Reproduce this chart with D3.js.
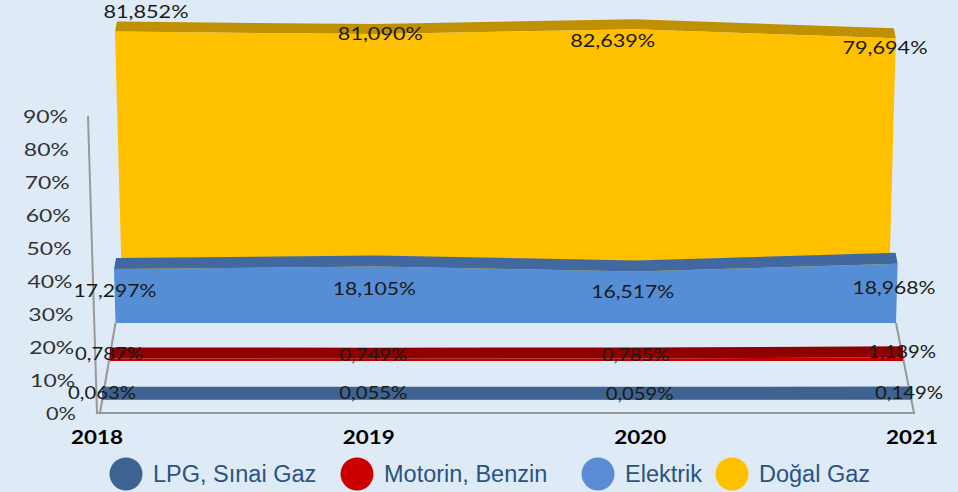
<!DOCTYPE html>
<html>
<head>
<meta charset="utf-8">
<script src="https://cdnjs.cloudflare.com/ajax/libs/d3/7.8.5/d3.min.js"></script>
<style>
	html, body { margin: 0; padding: 0; background: #deeaf6; }
	svg { display: block; }
	.val { font-family: Lato, sans-serif; font-size: 18px; fill: #1a1a1a; }
	.tick { font-family: Lato, sans-serif; font-size: 18px; fill: #333; }
	.year { font-family: Lato, sans-serif; font-size: 18px; font-weight: 700; fill: #000; }
	.leg { font-family: "Liberation Sans", sans-serif; font-size: 23.5px; fill: #2a5380; }
</style>
</head>
<body>
<div class="chart"></div>
<script>
var years = ["2018", "2019", "2020", "2021"];
var yTicks = [0, 10, 20, 30, 40, 50, 60, 70, 80, 90];

var lpg = [0.063, 0.055, 0.059, 0.149];
var motorin = [0.787, 0.749, 0.785, 1.189];
var elektrik = [17.297, 18.105, 16.517, 18.968];
var dogalGaz = [81.852, 81.090, 82.639, 79.694];

var names = ["LPG, Sınai Gaz", "Motorin, Benzin", "Elektrik", "Doğal Gaz"];

var W = 958, H = 492;
var bg = "#deeaf6";

var svg = d3.select(".chart").append("svg")
	.attr("width", W)
	.attr("height", H);

svg.append("rect").attr("width", W).attr("height", H).attr("fill", bg);

// px per percent, same for every ribbon
var pxPerPct = 3.12;
var lean = 0.0275;

// back ribbon first, front ribbon last
var ribbons = [
	{values: dogalGaz, base: 287, left: 122, right: 889, depth: 10, inset: 4, front: "#ffc000", top: "#bf9000"},
	{values: elektrik, base: 323, left: 115.5, right: 896, depth: 11, inset: 4, front: "#558ed5", top: "#42699f"},
	{values: motorin, base: 361, left: 110, right: 903, depth: 11, inset: 0, front: "#c00000", top: "#8f0000"},
	{values: lpg, base: 400, left: 102, right: 911, depth: 13, inset: 0, front: "#3f6390", top: "#3f6390"}
];

// Floor and back wall lines
var axisY = d3.scaleLinear().domain([0, 90]).range([413, 116]);
var axisX = d3.scaleLinear().domain([0, 90]).range([97, 88]);
var floorX = d3.scaleLinear().domain([0, 3]).range([97, 914]);

var line = svg.append("g")
	.attr("fill", "none")
	.attr("stroke", "#989898")
	.attr("stroke-width", 2);

line.append("path").attr("d", d3.line()([
	[axisX(90), axisY(90)], [axisX(0), axisY(0)], [floorX(3), axisY(0)], [896, 323]
]));
line.append("path").attr("d", d3.line()([[100, axisY(0)], [115.5, 323]]));

// Ribbons
ribbons.forEach(function(r) {
	var x = d3.scaleLinear().domain([0, 3]).range([r.left, r.right]);
	var y = function(v) { return r.base - v * pxPerPct; };
	// perspective: ribbon gets a bit wider the higher it goes
	var spread = function(i, v) {
		return (i / 3 - 0.5) * 2 * v * pxPerPct * lean;
	};
	var topX = function(v, i) { return x(i) + spread(i, v); };

	var topFace = d3.area()
		.x0(function(d, i) { return topX(d, i); })
		.y0(function(d) { return y(d); })
		.x1(function(d, i) { return topX(d, i) - (i / 3 - 0.5) * r.inset; })
		.y1(function(d) { return y(d) - r.depth; });

	svg.append("path")
		.attr("d", topFace(r.values))
		.attr("fill", r.top);

	var frontFace = d3.area()
		.x0(function(d, i) { return x(i); })
		.y0(r.base)
		.x1(function(d, i) { return topX(d, i); })
		.y1(function(d) { return y(d); });

	svg.append("path")
		.attr("d", frontFace(r.values))
		.attr("fill", r.front);
});

function stretched(sel, len) {
	return sel.attr("textLength", len).attr("lengthAdjust", "spacingAndGlyphs");
}

// Y tick labels
var tickRight = d3.scaleLinear().domain([0, 90]).range([76, 68]);
yTicks.forEach(function(t) {
	var label = t + "%";
	var len = t === 0 ? 30 : 45;
	stretched(svg.append("text")
		.attr("class", "tick")
		.attr("x", tickRight(t) - len)
		.attr("y", axisY(t) + 7)
		.text(label), len);
});

// Year labels
var yearX = d3.scaleLinear().domain([0, 3]).range([97, 912]);
years.forEach(function(d, i) {
	stretched(svg.append("text")
		.attr("class", "year")
		.attr("x", yearX(i) - 26)
		.attr("y", 444)
		.text(d), 52);
});

// Value labels, nudged from the top of each ribbon at that year (hand placed in the original)
var labelX = d3.scaleLinear().domain([0, 3]).range([115, 896]);
var nudges = [
	[[31, -20], [5, 0], [-23, 12], [-11, 10]],
	[[0, 22], [-1, 22], [-3, 21], [-2, 24]],
	[[-6, -5], [-2, -4], [0, -4], [6, -5]],
	[[-13, -7], [-2, -7], [4, -6], [13, -7]]
];
var labelLen = [85, 83, 68, 68];
var order = [dogalGaz, elektrik, motorin, lpg];
function fmt(v) { return v.toFixed(3).replace(".", ",") + "%"; }

order.forEach(function(vals, s) {
	var r = ribbons[s];
	vals.forEach(function(v, i) {
		stretched(svg.append("text")
			.attr("class", "val")
			.attr("x", labelX(i) + nudges[s][i][0] - labelLen[s] / 2)
			.attr("y", r.base - v * pxPerPct + nudges[s][i][1] + 6)
			.text(fmt(v)), labelLen[s]);
	});
});

// Legend
var legColors = ["#3f6390", "#cc0000", "#5b8dd6", "#ffc000"];
var legCx = [126, 357, 598, 732];
names.forEach(function(n, i) {
	svg.append("circle")
		.attr("cx", legCx[i])
		.attr("cy", 474)
		.attr("r", 16.5)
		.attr("fill", legColors[i]);
	svg.append("text")
		.attr("class", "leg")
		.attr("x", i === 2 ? 625 : legCx[i] + 27)
		.attr("y", 482)
		.text(n);
});
</script>
</body>
</html>
